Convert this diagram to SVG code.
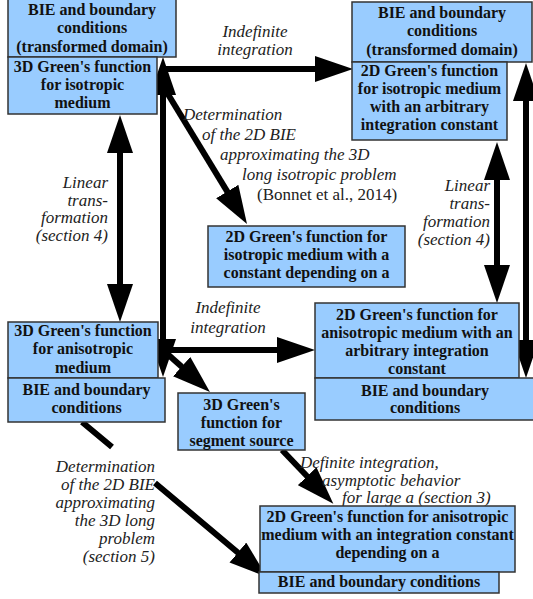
<svg xmlns="http://www.w3.org/2000/svg" width="533" height="599" viewBox="0 0 533 599">
<defs>
<marker id="ah" viewBox="0 0 38 26" refX="8" refY="13" markerWidth="38" markerHeight="26" markerUnits="userSpaceOnUse" orient="auto-start-reverse">
<path d="M0,0 L38,13 L0,26 Z" fill="#000"/>
</marker>
<style>
.box{fill:#99ccff;stroke:#333;stroke-width:1.5}
.bt{font-family:'Liberation Serif',serif;font-weight:bold;font-size:16px;fill:#111;text-anchor:middle}
.lb{font-family:'Liberation Serif',serif;font-style:italic;font-size:17px;fill:#222}
.rg{font-family:'Liberation Serif',serif;font-size:17px;fill:#222}
.ln{fill:none;stroke:#000;stroke-width:6}
</style>
</defs>
<rect width="533" height="599" fill="#fff"/>

<g id="connectors">
<path class="ln" d="M163,69 L323,69" marker-end="url(#ah)"/>
<path class="ln" d="M163,87 L163,347" marker-start="url(#ah)" marker-end="url(#ah)"/>
<path class="ln" d="M163,86 L231.4,198.4" marker-end="url(#ah)"/>
<path class="ln" d="M163,350 L285,350" marker-end="url(#ah)"/>
<path class="ln" d="M163,350 L187.6,372" marker-end="url(#ah)"/>
<path class="ln" d="M120,145 L120,292" marker-start="url(#ah)" marker-end="url(#ah)"/>
<path class="ln" d="M497,172 L497,273" marker-start="url(#ah)" marker-end="url(#ah)"/>
<path class="ln" d="M526,93 L526,348" marker-start="url(#ah)" marker-end="url(#ah)"/>
<path class="ln" d="M82,422 L112,447 M155,483 L244,557.7" marker-end="url(#ah)"/>
<path class="ln" d="M282,450 L312.6,482" marker-end="url(#ah)"/>
</g>

<g id="labels">
<text class="lb" text-anchor="middle" x="255" y="37">Indefinite</text>
<text class="lb" text-anchor="middle" x="255" y="55">integration</text>
<text class="lb" x="183" y="120">Determination</text>
<text class="lb" x="202" y="140">of the 2D BIE</text>
<text class="lb" x="220" y="160">approximating the 3D</text>
<text class="lb" x="242" y="180">long isotropic problem</text>
<text class="rg" x="257" y="200">(Bonnet et al., 2014)</text>
<text class="lb" text-anchor="end" x="108" y="188">Linear</text>
<text class="lb" text-anchor="end" x="108" y="205.5">trans-</text>
<text class="lb" text-anchor="end" x="108" y="223">formation</text>
<text class="lb" text-anchor="end" x="108" y="240.5">(section 4)</text>
<text class="lb" text-anchor="end" x="490" y="191">Linear</text>
<text class="lb" text-anchor="end" x="490" y="209">trans-</text>
<text class="lb" text-anchor="end" x="490" y="227">formation</text>
<text class="lb" text-anchor="end" x="490" y="245">(section 4)</text>
<text class="lb" text-anchor="middle" x="228" y="313">Indefinite</text>
<text class="lb" text-anchor="middle" x="228" y="333">integration</text>
<text class="lb" text-anchor="end" x="155" y="472">Determination</text>
<text class="lb" text-anchor="end" x="155" y="490">of the 2D BIE</text>
<text class="lb" text-anchor="end" x="155" y="508">approximating</text>
<text class="lb" text-anchor="end" x="155" y="526">the 3D long</text>
<text class="lb" text-anchor="end" x="155" y="544">problem</text>
<text class="lb" text-anchor="end" x="155" y="562">(section 5)</text>
<text class="lb" x="300" y="468">Definite integration,</text>
<text class="lb" x="322" y="486">asymptotic behavior</text>
<text class="lb" x="342" y="503">for large a (section 3)</text>
</g>

<g id="nodes">
<g id="bie-transformed-left">
<rect class="box" x="8" y="-1" width="168" height="58"/>
<text class="bt" x="92" y="15">BIE and boundary</text>
<text class="bt" x="92" y="33">conditions</text>
<text class="bt" x="92" y="52">(transformed  domain)</text>
</g>
<g id="green3d-iso">
<rect class="box" x="8" y="57" width="149" height="57"/>
<text class="bt" x="82.5" y="72">3D Green's  function</text>
<text class="bt" x="82.5" y="90">for isotropic</text>
<text class="bt" x="82.5" y="108">medium</text>
</g>
<g id="bie-transformed-right">
<rect class="box" x="352" y="2" width="180" height="60"/>
<text class="bt" x="442" y="18">BIE and boundary</text>
<text class="bt" x="442" y="36">conditions</text>
<text class="bt" x="442" y="55">(transformed  domain)</text>
</g>
<g id="green2d-iso-arbitrary">
<rect class="box" x="352" y="62" width="155" height="78"/>
<text class="bt" x="429.5" y="76">2D Green's function</text>
<text class="bt" x="429.5" y="94">for isotropic medium</text>
<text class="bt" x="429.5" y="112">with an arbitrary</text>
<text class="bt" x="429.5" y="130">integration constant</text>
</g>
<g id="green2d-iso-a">
<rect class="box" x="208" y="226" width="197" height="61"/>
<text class="bt" x="306.5" y="242">2D Green's function for</text>
<text class="bt" x="306.5" y="260">isotropic medium with a</text>
<text class="bt" x="306.5" y="278">constant depending on a</text>
</g>
<g id="green3d-aniso">
<rect class="box" x="8" y="322" width="150" height="56"/>
<text class="bt" x="83" y="336">3D Green's  function</text>
<text class="bt" x="83" y="354">for anisotropic</text>
<text class="bt" x="83" y="373">medium</text>
</g>
<g id="bie-left">
<rect class="box" x="8" y="378" width="157" height="44"/>
<text class="bt" x="86.5" y="395">BIE and boundary</text>
<text class="bt" x="86.5" y="413">conditions</text>
</g>
<g id="green2d-aniso-arbitrary">
<rect class="box" x="315" y="303" width="204" height="75"/>
<text class="bt" x="417" y="320">2D Green's function for</text>
<text class="bt" x="417" y="338">anisotropic medium with an</text>
<text class="bt" x="417" y="356">arbitrary  integration</text>
<text class="bt" x="417" y="374">constant</text>
</g>
<g id="bie-right">
<rect class="box" x="315" y="378" width="220" height="42"/>
<text class="bt" x="425" y="396">BIE and boundary</text>
<text class="bt" x="425" y="413">conditions</text>
</g>
<g id="green3d-segment">
<rect class="box" x="178" y="393" width="127" height="57"/>
<text class="bt" x="241.5" y="410">3D Green's</text>
<text class="bt" x="241.5" y="428">function for</text>
<text class="bt" x="241.5" y="446">segment source</text>
</g>
<g id="green2d-aniso-a">
<rect class="box" x="260" y="506" width="255" height="66"/>
<text class="bt" x="387.5" y="522">2D Green's function for anisotropic</text>
<text class="bt" x="387.5" y="540">medium with an integration constant</text>
<text class="bt" x="387.5" y="558">depending on a</text>
</g>
<g id="bie-bottom">
<rect class="box" x="259" y="572" width="240" height="21"/>
<text class="bt" x="379" y="587">BIE and boundary conditions</text>
</g>
</g>
</svg>
